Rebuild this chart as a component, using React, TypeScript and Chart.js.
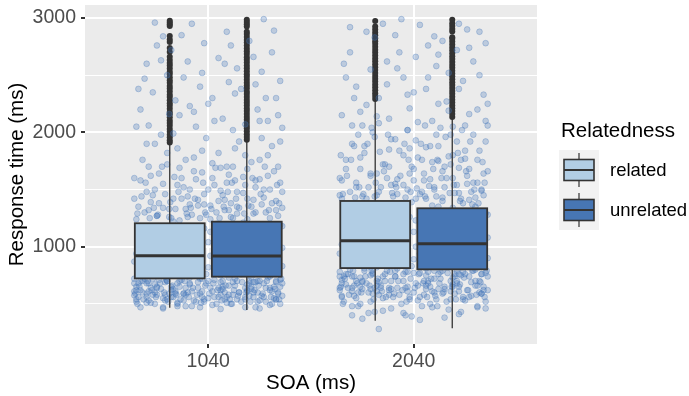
import { useEffect, useRef } from 'react';
import { Chart, registerables } from 'chart.js';

Chart.register(...registerables);

// ---------------- data ----------------
const soaLabels = ['1040', '2040'];
const soaPositions = [1, 2];
const groupNames = ['related', 'unrelated'];
const groupFills = ['#b1cde4', '#4776b4'];

const yTicks = [500, 1000, 1500, 2000, 2500, 3000];
const yMajorTicks = [1000, 2000, 3000];

// box statistics per SOA (1040, 2040)
const relLower = [466, 353];
const relQ1 = [723, 813];
const relMedian = [921, 1053];
const relQ3 = [1205, 1400];
const relUpper = [1907, 2290];

const unrLower = [446, 286];
const unrQ1 = [738, 802];
const unrMedian = [919, 1026];
const unrQ3 = [1219, 1336];
const unrUpper = [1933, 2130];

// outliers
const outRelated1040 = [1912, 1931, 1958, 1980, 2006, 2029, 2057, 2081, 2104, 2133, 2158, 2179, 2206, 2232, 2255, 2281, 2309, 2330, 2357, 2384, 2406, 2433, 2455, 2482, 2511, 2530, 2558, 2584, 2607, 2633, 2661, 2702, 2738, 2790, 2812, 2843, 2930, 2946, 2961, 2976];
const outUnrelated1040 = [1935, 1960, 1984, 2010, 2036, 2058, 2085, 2110, 2134, 2160, 2186, 2208, 2235, 2260, 2284, 2310, 2336, 2358, 2385, 2410, 2434, 2460, 2486, 2508, 2535, 2560, 2584, 2610, 2636, 2658, 2685, 2710, 2734, 2760, 2786, 2808, 2835, 2860, 2880, 2925, 2945, 2965, 2985];
const outRelated2040 = [2292, 2318, 2342, 2368, 2394, 2418, 2444, 2470, 2494, 2520, 2546, 2570, 2596, 2622, 2646, 2672, 2698, 2722, 2748, 2774, 2798, 2824, 2850, 2874, 2900, 2925, 2975];
const outUnrelated2040 = [2135, 2160, 2186, 2210, 2236, 2262, 2286, 2312, 2338, 2362, 2388, 2414, 2438, 2464, 2490, 2514, 2540, 2566, 2590, 2616, 2642, 2666, 2692, 2718, 2742, 2768, 2794, 2818, 2832, 2882, 2905, 2930, 2955, 2984];

// jittered raw observations: [horizontal jitter offset, response time]
const jitter1040: [number, number][] = [
  [-0.30, 2600], [-0.25, 2760], [-0.22, 2840], [-0.18, 2720], [-0.12, 2480], [-0.08, 2950], [-0.04, 2400], [0.02, 2300], [0.05, 2650], [0.09, 2880],
  [0.14, 2560], [0.27, 2990], [0.31, 2700], [0.35, 2450], [-0.33, 2200], [-0.27, 2350], [-0.14, 2150], [-0.06, 2050], [0.00, 2250], [0.07, 2120],
  [0.12, 2020], [0.16, 2380], [0.24, 2200], [0.29, 2100], [0.33, 2300], [-0.20, 2500], [-0.10, 2620], [0.20, 2800], [0.26, 2530], [-0.35, 2050],
  [0.10, 2440], [-0.02, 2780], [0.34, 2150], [-0.16, 2280], [0.22, 2660],
  [-0.34, 2380], [-0.29, 2060], [-0.23, 2630], [-0.19, 2160], [-0.13, 2850], [-0.09, 2230], [-0.03, 2520], [0.03, 2100], [0.08, 2600], [0.13, 2340],
  [0.18, 2070], [0.23, 2420], [0.28, 2300], [0.32, 2890], [0.36, 2040], [-0.26, 2960], [-0.07, 2180], [0.11, 2760], [0.25, 2100], [-0.31, 2470],
  [-0.34, 1350], [-0.30, 1480], [-0.28, 1620], [-0.26, 1900], [-0.24, 1380], [-0.22, 1550], [-0.20, 1720], [-0.17, 1420], [-0.15, 1860], [-0.13, 1600],
  [-0.11, 1330], [-0.09, 1500], [-0.07, 1780], [-0.05, 1410], [-0.03, 1650], [-0.01, 1950], [0.01, 1360], [0.03, 1540], [0.05, 1820], [0.07, 1450],
  [0.09, 1700], [0.11, 1380], [0.13, 1580], [0.15, 1920], [0.17, 1470], [0.19, 1680], [0.21, 1350], [0.23, 1520], [0.25, 1760], [0.27, 1430],
  [0.29, 1620], [0.31, 1880], [0.33, 1400], [0.35, 1560], [0.36, 1340], [-0.36, 1600], [-0.32, 1760], [-0.27, 1450], [-0.23, 1980], [-0.19, 1330],
  [-0.14, 1690], [-0.10, 1440], [-0.06, 1590], [-0.02, 1370], [0.02, 1730], [0.06, 1490], [0.10, 1630], [0.14, 1350], [0.18, 1800], [0.22, 1410],
  [0.26, 1950], [0.30, 1500], [0.34, 1700], [-0.29, 1320], [0.08, 1320],
  [-0.35, 1240], [-0.31, 1300], [-0.28, 1390], [-0.25, 1270], [-0.21, 1460], [-0.18, 1250], [-0.16, 1330], [-0.12, 1520], [-0.08, 1280], [-0.05, 1360],
  [-0.02, 1460], [0.01, 1240], [0.04, 1300], [0.08, 1410], [0.11, 1260], [0.15, 1340], [0.18, 1540], [0.22, 1290], [0.26, 1370], [0.30, 1250],
  [0.33, 1320], [0.36, 1480], [-0.33, 1580], [-0.29, 1700], [-0.24, 1640], [-0.20, 1820], [-0.15, 1540], [-0.11, 1760], [-0.07, 1660], [-0.03, 1840],
  [0.02, 1600], [0.06, 1690], [0.09, 1560], [0.13, 1860], [0.17, 1610], [0.21, 1740], [0.25, 1590], [0.29, 1800], [0.32, 1660], [0.35, 1920],
  [-0.36, 1420], [-0.26, 1500], [-0.17, 1990], [-0.09, 1370], [0.00, 1500], [0.10, 1320], [0.19, 1420], [0.27, 1500], [0.34, 1270], [-0.22, 1340],
  [-0.13, 1420], [-0.04, 1250], [0.05, 1400], [0.14, 1480], [0.23, 1580], [0.31, 1380], [-0.30, 1900], [-0.19, 1260], [0.12, 1700], [0.28, 1300],
  [-0.345, 1290], [-0.305, 1560], [-0.265, 1340], [-0.225, 1700], [-0.185, 1390], [-0.145, 1480], [-0.105, 1290], [-0.065, 1420], [-0.025, 1560], [0.015, 1330],
  [0.055, 1250], [0.095, 1480], [0.135, 1420], [0.175, 1290], [0.215, 1600], [0.255, 1460], [0.295, 1320], [0.335, 1540], [-0.325, 1440], [-0.245, 1280],
  [-0.165, 1610], [-0.085, 1340], [0.035, 1690], [0.115, 1560], [0.195, 1360], [0.275, 1700], [0.345, 1380], [-0.015, 1300], [0.075, 1350], [-0.285, 1250],
  [-0.35, 620], [-0.27, 880], [-0.20, 540], [-0.12, 1150], [-0.04, 720], [0.04, 960], [0.11, 500], [0.19, 1240], [0.27, 680], [0.34, 830],
  [-0.32, 770], [-0.24, 1050], [-0.16, 590], [-0.09, 910], [-0.01, 1280], [0.07, 650], [0.15, 1000], [0.22, 560], [0.30, 740], [0.36, 1180],
  [-0.29, 530], [-0.21, 690], [-0.14, 1120], [-0.06, 810], [0.02, 610], [0.09, 940], [0.17, 1210], [0.25, 700], [0.32, 880], [-0.36, 575],
  [-0.33, 980], [-0.25, 640], [-0.18, 760], [-0.10, 1260], [-0.02, 520], [0.05, 860], [0.13, 1090], [0.21, 630], [0.28, 960], [0.35, 710],
  [-0.30, 590], [-0.23, 1170], [-0.15, 680], [-0.07, 900], [0.00, 550], [0.08, 1030], [0.16, 780], [0.23, 1300], [0.31, 610], [-0.34, 850],
  [-0.36, 720], [-0.28, 510], [-0.19, 990], [-0.11, 640], [-0.03, 1140], [0.06, 580], [0.14, 830], [0.20, 700], [0.29, 1050], [0.33, 540],
  [-0.31, 860], [-0.26, 600], [-0.17, 1220], [-0.08, 750], [0.01, 920], [0.10, 660], [0.18, 560], [0.26, 1010], [0.34, 790], [-0.13, 1160],
  [-0.35, 650], [-0.22, 940], [-0.12, 530], [-0.05, 1080], [0.03, 710], [0.12, 1250], [0.19, 620], [0.27, 890], [0.36, 570], [-0.27, 1000],
  [-0.33, 1100], [-0.24, 780], [-0.16, 610], [-0.07, 850], [0.02, 490], [0.11, 970], [0.21, 730], [0.30, 640], [0.35, 1190], [-0.01, 760],
  [-0.30, 560], [-0.20, 700], [-0.10, 1020], [-0.04, 590], [0.06, 800], [0.15, 1130], [0.24, 520], [0.31, 950], [-0.36, 680], [0.09, 880],
  [-0.34, 820], [-0.25, 1270], [-0.18, 650], [-0.09, 730], [0.00, 1040], [0.08, 600], [0.17, 910], [0.25, 780], [0.33, 540], [-0.14, 1230],
  [-0.32, 700], [-0.21, 580], [-0.11, 870], [-0.02, 1160], [0.07, 630], [0.16, 760], [0.23, 1060], [0.32, 550], [0.36, 990], [-0.28, 640],
  [-0.35, 940], [-0.26, 670], [-0.15, 510], [-0.06, 800], [0.04, 1200], [0.13, 720], [0.22, 600], [0.28, 840], [0.34, 1110], [-0.19, 590],
  [-0.29, 610], [-0.23, 1010], [-0.13, 760], [-0.03, 560], [0.05, 930], [0.14, 1290], [0.20, 680], [0.29, 730], [-0.33, 620], [0.10, 1070],
  [-0.34, 560], [-0.27, 720], [-0.19, 830], [-0.10, 600], [-0.01, 680], [0.08, 540], [0.17, 870], [0.24, 600], [0.31, 760], [0.35, 650],
  [-0.31, 800], [-0.22, 550], [-0.14, 700], [-0.05, 640], [0.04, 800], [0.12, 580], [0.20, 900], [0.28, 520], [0.36, 830], [-0.08, 980],
  [-0.36, 870], [-0.25, 580], [-0.17, 630], [-0.07, 530], [0.03, 870], [0.10, 730], [0.18, 640], [0.26, 570], [0.33, 700], [0.01, 1130],
  [-0.30, 680], [-0.20, 830], [-0.12, 590], [-0.03, 720], [0.06, 690], [0.15, 600], [0.22, 790], [0.30, 860], [-0.35, 520], [0.13, 1000],
  [-0.28, 900], [-0.18, 560], [-0.09, 680], [0.00, 820], [0.09, 560], [0.19, 670], [0.27, 950], [0.34, 600], [-0.24, 750], [0.06, 750],
  [-0.33, 700], [-0.21, 760], [-0.11, 580], [-0.04, 950], [0.05, 640], [0.14, 540], [0.23, 690], [0.32, 780], [-0.16, 880], [0.25, 1120],
  [-0.33, 470], [-0.22, 460], [-0.08, 480], [0.06, 455], [0.18, 470], [0.30, 490], [0.25, 460], [-0.15, 500],
  [-0.35, 540], [-0.32, 600], [-0.29, 680], [-0.26, 500], [-0.23, 630], [-0.20, 700], [-0.17, 560], [-0.14, 650], [-0.11, 480], [-0.08, 610],
  [-0.05, 690], [-0.02, 540], [0.01, 640], [0.04, 500], [0.07, 700], [0.10, 580], [0.13, 660], [0.16, 520], [0.19, 610], [0.22, 690],
  [0.25, 530], [0.28, 640], [0.31, 500], [0.34, 590], [0.36, 680], [-0.34, 680], [-0.30, 510], [-0.27, 580], [-0.24, 710], [-0.21, 530],
  [-0.18, 620], [-0.15, 480], [-0.12, 590], [-0.09, 670], [-0.06, 520], [-0.03, 610], [0.00, 700], [0.03, 560], [0.06, 620], [0.09, 510],
  [0.12, 690], [0.15, 600], [0.18, 540], [0.21, 650], [0.24, 700], [0.27, 560], [0.30, 620], [0.33, 690], [0.35, 500], [-0.36, 610],
  [-0.31, 720], [-0.22, 470], [-0.13, 710], [-0.04, 470], [0.05, 560], [0.14, 700], [0.23, 470], [0.32, 650], [-0.25, 650], [0.20, 570],
  [-0.355, 590], [-0.335, 650], [-0.315, 540], [-0.295, 700], [-0.275, 620], [-0.255, 560], [-0.235, 680], [-0.215, 600], [-0.195, 520], [-0.175, 660],
  [-0.155, 580], [-0.135, 540], [-0.115, 700], [-0.095, 560], [-0.075, 640], [-0.055, 580], [-0.035, 510], [-0.015, 660], [0.005, 590], [0.025, 680],
  [0.045, 620], [0.065, 530], [0.085, 660], [0.105, 540], [0.125, 620], [0.145, 570], [0.165, 690], [0.185, 600], [0.205, 520], [0.225, 620],
  [0.245, 660], [0.265, 590], [0.285, 700], [0.305, 560], [0.325, 630], [0.345, 540], [0.355, 720], [-0.345, 500], [0.115, 500], [-0.205, 710],
];

const jitter2040: [number, number][] = [
  [-0.35, 2150], [-0.31, 2700], [-0.28, 2400], [-0.25, 2060], [-0.21, 2550], [-0.17, 2300], [-0.15, 2950], [-0.12, 2120], [-0.09, 2850], [-0.05, 2480],
  [-0.02, 2210], [0.01, 2660], [0.03, 2940], [0.06, 2380], [0.09, 2100], [0.11, 2580], [0.14, 2800], [0.16, 2270], [0.19, 2050], [0.21, 2720],
  [0.24, 2450], [0.27, 2160], [0.29, 2620], [0.32, 2880], [0.34, 2330], [0.36, 2060], [-0.33, 2480], [-0.23, 2240], [-0.13, 2620], [-0.03, 2020],
  [0.07, 2760], [0.17, 2520], [0.26, 2900], [0.31, 2200], [-0.19, 2830], [0.00, 2350], [0.12, 2250], [0.22, 2950], [-0.07, 2700], [0.35, 2780],
  [-0.34, 2600], [-0.29, 2300], [-0.23, 2880], [-0.18, 2140], [-0.13, 2420], [-0.08, 2560], [-0.03, 2330], [0.02, 2090], [0.07, 2480], [0.12, 2680],
  [0.17, 2190], [0.22, 2380], [0.27, 2740], [0.32, 2500], [0.36, 2250], [-0.26, 2180], [-0.06, 2990], [0.10, 2840], [0.25, 2060], [-0.31, 2920],
  [-0.36, 1450], [-0.33, 1680], [-0.30, 1900], [-0.28, 1520], [-0.26, 1780], [-0.23, 1420], [-0.21, 1620], [-0.19, 1960], [-0.17, 1480], [-0.14, 1720],
  [-0.12, 1850], [-0.10, 1440], [-0.08, 1590], [-0.05, 1800], [-0.03, 1500], [-0.01, 1700], [0.01, 1930], [0.03, 1460], [0.05, 1640], [0.08, 1880],
  [0.10, 1520], [0.12, 1750], [0.14, 1430], [0.16, 1600], [0.18, 1980], [0.20, 1470], [0.22, 1690], [0.25, 1840], [0.27, 1410], [0.29, 1560],
  [0.31, 1760], [0.33, 1490], [0.35, 1920], [-0.35, 1580], [-0.29, 1360], [-0.24, 1880], [-0.18, 1640], [-0.11, 1540], [-0.06, 1380], [0.00, 1580],
  [0.06, 1420], [0.11, 1980], [0.15, 1700], [0.21, 1540], [0.26, 1620], [0.30, 1350], [0.34, 1640], [-0.27, 1980], [-0.15, 1360], [-0.02, 1860],
  [0.09, 1360], [0.19, 1800], [0.24, 1380], [-0.09, 1940], [0.04, 1760],
  [-0.35, 1420], [-0.31, 1480], [-0.28, 1560], [-0.25, 1440], [-0.21, 1640], [-0.18, 1450], [-0.16, 1520], [-0.12, 1700], [-0.08, 1460], [-0.05, 1540],
  [-0.02, 1640], [0.01, 1420], [0.04, 1480], [0.08, 1590], [0.11, 1440], [0.15, 1520], [0.18, 1720], [0.22, 1470], [0.26, 1550], [0.30, 1430],
  [0.33, 1500], [0.36, 1660], [-0.33, 1760], [-0.29, 1880], [-0.24, 1820], [-0.20, 2000], [-0.15, 1720], [-0.11, 1940], [-0.07, 1840], [-0.03, 2020],
  [0.02, 1780], [0.06, 1870], [0.09, 1740], [0.13, 2040], [0.17, 1790], [0.21, 1920], [0.25, 1770], [0.29, 1980], [0.32, 1840], [0.35, 2100],
  [-0.36, 1600], [-0.26, 1680], [-0.17, 2080], [-0.09, 1550], [0.00, 1680], [0.10, 1500], [0.19, 1600], [0.27, 1680], [0.34, 1450], [-0.22, 1520],
  [-0.13, 1600], [-0.04, 1430], [0.05, 1580], [0.14, 1660], [0.23, 1760], [0.31, 1560], [-0.30, 2060], [-0.19, 1440], [0.12, 1880], [0.28, 1480],
  [-0.345, 1460], [-0.305, 1760], [-0.265, 1520], [-0.225, 1900], [-0.185, 1560], [-0.145, 1660], [-0.105, 1470], [-0.065, 1620], [-0.025, 1760], [0.015, 1510],
  [0.055, 1440], [0.095, 1680], [0.135, 1600], [0.175, 1470], [0.215, 1820], [0.255, 1660], [0.295, 1500], [0.335, 1740], [-0.325, 1620], [-0.245, 1460],
  [-0.165, 1830], [-0.085, 1520], [0.035, 1900], [0.115, 1760], [0.195, 1540], [0.275, 1920], [0.345, 1560], [-0.015, 1480], [0.075, 1530], [-0.285, 1430],
  [-0.355, 1800], [-0.205, 2040], [-0.125, 1980], [-0.045, 1900], [0.055, 2060], [0.155, 1960], [0.235, 2020], [0.315, 1380], [0.225, 1400], [0.285, 1370],
  [-0.35, 680], [-0.27, 940], [-0.20, 590], [-0.12, 1250], [-0.04, 780], [0.04, 1050], [0.11, 540], [0.19, 1340], [0.27, 740], [0.34, 900],
  [-0.32, 830], [-0.24, 1150], [-0.16, 640], [-0.09, 990], [-0.01, 1390], [0.07, 700], [0.15, 1090], [0.22, 610], [0.30, 800], [0.36, 1280],
  [-0.29, 570], [-0.21, 750], [-0.14, 1220], [-0.06, 880], [0.02, 660], [0.09, 1020], [0.17, 1310], [0.25, 760], [0.32, 960], [-0.36, 620],
  [-0.33, 1060], [-0.25, 690], [-0.18, 820], [-0.10, 1360], [-0.02, 560], [0.05, 930], [0.13, 1190], [0.21, 680], [0.28, 1040], [0.35, 770],
  [-0.30, 640], [-0.23, 1270], [-0.15, 740], [-0.07, 980], [0.00, 600], [0.08, 1120], [0.16, 850], [0.23, 1420], [0.31, 660], [-0.34, 920],
  [-0.36, 780], [-0.28, 550], [-0.19, 1080], [-0.11, 700], [-0.03, 1240], [0.06, 630], [0.14, 900], [0.20, 760], [0.29, 1140], [0.33, 590],
  [-0.31, 930], [-0.26, 650], [-0.17, 1320], [-0.08, 810], [0.01, 1000], [0.10, 720], [0.18, 610], [0.26, 1100], [0.34, 860], [-0.13, 1260],
  [-0.35, 710], [-0.22, 1020], [-0.12, 580], [-0.05, 1170], [0.03, 770], [0.12, 1350], [0.19, 670], [0.27, 970], [0.36, 620], [-0.27, 1090],
  [-0.33, 1200], [-0.24, 850], [-0.16, 660], [-0.07, 920], [0.02, 530], [0.11, 1060], [0.21, 790], [0.30, 700], [0.35, 1290], [-0.01, 830],
  [-0.30, 610], [-0.20, 760], [-0.10, 1110], [-0.04, 640], [0.06, 870], [0.15, 1230], [0.24, 560], [0.31, 1030], [-0.36, 740], [0.09, 960],
  [-0.34, 890], [-0.25, 1380], [-0.18, 700], [-0.09, 790], [0.00, 1130], [0.08, 650], [0.17, 990], [0.25, 850], [0.33, 590], [-0.14, 1330],
  [-0.32, 760], [-0.21, 630], [-0.11, 950], [-0.02, 1260], [0.07, 680], [0.16, 830], [0.23, 1150], [0.32, 600], [0.36, 1080], [-0.28, 700],
  [-0.35, 1020], [-0.26, 730], [-0.15, 550], [-0.06, 870], [0.04, 1300], [0.13, 780], [0.22, 650], [0.28, 910], [0.34, 1210], [-0.19, 640],
  [-0.29, 660], [-0.23, 1100], [-0.13, 830], [-0.03, 610], [0.05, 1010], [0.14, 1400], [0.20, 740], [0.29, 790], [-0.33, 670], [0.10, 1160],
  [-0.34, 520], [-0.27, 480], [-0.19, 430], [-0.10, 560], [-0.01, 390], [0.08, 500], [0.17, 450], [0.24, 540], [0.31, 470], [0.35, 520],
  [-0.31, 860], [-0.22, 600], [-0.14, 760], [-0.05, 700], [0.04, 860], [0.12, 630], [0.20, 980], [0.28, 570], [0.36, 900], [-0.08, 1060],
  [-0.36, 940], [-0.25, 630], [-0.17, 690], [-0.07, 580], [0.03, 940], [0.10, 790], [0.18, 700], [0.26, 620], [0.33, 760], [0.01, 1230],
  [-0.30, 740], [-0.20, 900], [-0.12, 640], [-0.03, 780], [0.06, 750], [0.15, 650], [0.22, 860], [0.30, 930], [-0.35, 570], [0.13, 1080],
  [-0.28, 980], [-0.18, 610], [-0.09, 740], [0.00, 890], [0.09, 610], [0.19, 730], [0.27, 1030], [0.34, 650], [-0.24, 810], [0.06, 810],
  [-0.33, 760], [-0.21, 820], [-0.11, 630], [-0.04, 1030], [0.05, 700], [0.14, 590], [0.23, 750], [0.32, 850], [-0.16, 950], [0.25, 1220],
  [-0.17, 280], [-0.25, 370], [0.03, 360], [-0.30, 400], [0.15, 380], [0.22, 410], [-0.05, 420],
  [-0.35, 560], [-0.32, 640], [-0.29, 740], [-0.26, 500], [-0.23, 680], [-0.20, 770], [-0.17, 580], [-0.14, 700], [-0.11, 460], [-0.08, 640],
  [-0.05, 760], [-0.02, 540], [0.01, 680], [0.04, 480], [0.07, 780], [0.10, 600], [0.13, 720], [0.16, 520], [0.19, 650], [0.22, 760],
  [0.25, 530], [0.28, 690], [0.31, 480], [0.34, 620], [0.36, 740], [-0.34, 740], [-0.30, 480], [-0.27, 600], [-0.24, 790], [-0.21, 520],
  [-0.18, 660], [-0.15, 440], [-0.12, 620], [-0.09, 740], [-0.06, 500], [-0.03, 650], [0.00, 770], [0.03, 560], [0.06, 660], [0.09, 470],
  [0.12, 760], [0.15, 630], [0.18, 540], [0.21, 700], [0.24, 780], [0.27, 560], [0.30, 660], [0.33, 760], [0.35, 460], [-0.36, 640],
  [-0.31, 800], [-0.22, 420], [-0.13, 790], [-0.04, 400], [0.05, 580], [0.14, 790], [0.23, 430], [0.32, 700], [-0.25, 700], [0.20, 590],
  [-0.355, 650], [-0.335, 720], [-0.315, 580], [-0.295, 790], [-0.275, 680], [-0.255, 600], [-0.235, 740], [-0.215, 660], [-0.195, 540], [-0.175, 720],
  [-0.155, 610], [-0.135, 560], [-0.115, 780], [-0.095, 590], [-0.075, 700], [-0.055, 620], [-0.035, 520], [-0.015, 720], [0.005, 640], [0.025, 760],
  [0.045, 680], [0.065, 560], [0.085, 720], [0.105, 570], [0.125, 680], [0.145, 600], [0.165, 770], [0.185, 650], [0.205, 540], [0.225, 670],
  [0.245, 730], [0.265, 620], [0.285, 790], [0.305, 580], [0.325, 690], [0.345, 560], [0.355, 790], [-0.345, 500], [0.115, 480], [-0.205, 790],
];

// ---------------- layout / style constants ----------------
const DODGE = 0.1875;
const BOX_W = 0.34;
const FONT = "'Liberation Sans', Arial, sans-serif";

const boxStats = [
  { lo: relLower, q1: relQ1, med: relMedian, q3: relQ3, hi: relUpper },
  { lo: unrLower, q1: unrQ1, med: unrMedian, q3: unrQ3, hi: unrUpper },
];
const groupOffsets = [-DODGE, DODGE];

const outlierData = [
  ...outRelated1040.map((v) => ({ x: soaPositions[0] - DODGE, y: v })),
  ...outUnrelated1040.map((v) => ({ x: soaPositions[0] + DODGE, y: v })),
  ...outRelated2040.map((v) => ({ x: soaPositions[1] - DODGE, y: v })),
  ...outUnrelated2040.map((v) => ({ x: soaPositions[1] + DODGE, y: v })),
];
const jitterData = [
  ...jitter1040.map(([dx, v]) => ({ x: soaPositions[0] + dx, y: v })),
  ...jitter2040.map(([dx, v]) => ({ x: soaPositions[1] + dx, y: v })),
];

const panelBg = {
  id: 'panelBg',
  beforeDraw(chart: any) {
    const { ctx, chartArea: a } = chart;
    ctx.save();
    ctx.fillStyle = '#ebebeb';
    ctx.fillRect(a.left, a.top, a.right - a.left, a.bottom - a.top);
    ctx.restore();
  },
};

const boxPlugin = {
  id: 'boxes',
  afterDatasetsDraw(chart: any) {
    const { ctx, scales } = chart;
    const x = scales.x;
    const y = scales.y;
    ctx.save();
    boxStats.forEach((s, gi) => {
      soaPositions.forEach((pos, i) => {
        const c = pos + groupOffsets[gi];
        const cx = x.getPixelForValue(c);
        const l = x.getPixelForValue(c - BOX_W / 2);
        const r = x.getPixelForValue(c + BOX_W / 2);
        const yLo = y.getPixelForValue(s.lo[i]);
        const yQ1 = y.getPixelForValue(s.q1[i]);
        const yMed = y.getPixelForValue(s.med[i]);
        const yQ3 = y.getPixelForValue(s.q3[i]);
        const yHi = y.getPixelForValue(s.hi[i]);
        ctx.strokeStyle = '#333333';
        ctx.lineWidth = 1.3;
        ctx.beginPath();
        ctx.moveTo(cx, yHi);
        ctx.lineTo(cx, yQ3);
        ctx.moveTo(cx, yQ1);
        ctx.lineTo(cx, yLo);
        ctx.stroke();
        ctx.fillStyle = groupFills[gi];
        ctx.fillRect(l, yQ3, r - l, yQ1 - yQ3);
        ctx.lineWidth = 1.8;
        ctx.strokeRect(l, yQ3, r - l, yQ1 - yQ3);
        ctx.lineWidth = 3;
        ctx.beginPath();
        ctx.moveTo(l, yMed);
        ctx.lineTo(r, yMed);
        ctx.stroke();
      });
    });
    ctx.restore();
  },
};

const annotations = {
  id: 'annotations',
  afterDraw(chart: any) {
    const { ctx, chartArea: a } = chart;
    ctx.save();
    ctx.fillStyle = '#000000';
    ctx.font = `20.5px ${FONT}`;
    ctx.textAlign = 'center';
    ctx.textBaseline = 'middle';
    ctx.fillText('SOA (ms)', (a.left + a.right) / 2, 383);
    ctx.save();
    ctx.translate(17, (a.top + a.bottom) / 2);
    ctx.rotate(-Math.PI / 2);
    ctx.fillText('Response time (ms)', 0, 0);
    ctx.restore();

    // legend
    const lx = a.right + 22;
    ctx.textAlign = 'left';
    ctx.font = `20.5px ${FONT}`;
    ctx.fillText('Relatedness', lx + 2, 131);
    const top0 = 150;
    const keyH = 40;
    ctx.fillStyle = '#f2f2f2';
    ctx.fillRect(lx, top0, 40, keyH * groupNames.length);
    groupNames.forEach((name, gi) => {
      const t = top0 + gi * keyH;
      const cx = lx + 20;
      ctx.strokeStyle = '#333333';
      ctx.lineWidth = 1.2;
      ctx.beginPath();
      ctx.moveTo(cx, t + 3);
      ctx.lineTo(cx, t + 37);
      ctx.stroke();
      ctx.fillStyle = groupFills[gi];
      ctx.fillRect(lx + 5, t + 9.5, 30, 21);
      ctx.lineWidth = 1.6;
      ctx.strokeRect(lx + 5, t + 9.5, 30, 21);
      ctx.lineWidth = 2;
      ctx.beginPath();
      ctx.moveTo(lx + 5, t + 20);
      ctx.lineTo(lx + 35, t + 20);
      ctx.stroke();
      ctx.fillStyle = '#000000';
      ctx.font = `18.5px ${FONT}`;
      ctx.fillText(name, lx + 51, t + 21);
    });
    ctx.restore();
  },
};

export default function App() {
  const ref = useRef<HTMLCanvasElement | null>(null);
  useEffect(() => {
    document.body.style.margin = '0';
    const canvas = ref.current;
    if (!canvas) return;
    const chart = new Chart(canvas, {
      type: 'scatter',
      data: {
        datasets: [
          {
            label: 'observations',
            data: jitterData,
            pointRadius: 2.9,
            pointBackgroundColor: 'rgba(70,120,185,0.28)',
            pointBorderColor: 'rgba(70,120,185,0.4)',
            pointBorderWidth: 0.8,
          },
          {
            label: 'outliers',
            data: outlierData,
            pointRadius: 3,
            pointBackgroundColor: '#333333',
            pointBorderColor: '#333333',
            pointBorderWidth: 0,
          },
        ],
      },
      options: {
        animation: false,
        responsive: false,
        events: [],
        layout: { padding: { top: 5, right: 152, left: 0, bottom: 0 } },
        plugins: { legend: { display: false }, tooltip: { enabled: false } },
        scales: {
          x: {
            type: 'linear',
            min: 0.4,
            max: 2.6,
            afterBuildTicks: (s: any) => {
              s.ticks = soaPositions.map((v) => ({ value: v }));
            },
            afterFit: (s: any) => {
              s.height = 52;
              s.paddingLeft = 0;
              s.paddingRight = 0;
            },
            ticks: {
              callback: (v: any) => soaLabels[soaPositions.indexOf(Number(v))] ?? '',
              color: '#4d4d4d',
              font: { family: FONT, size: 19.5 },
              padding: 2,
              maxRotation: 0,
            },
            grid: { color: '#ffffff', lineWidth: 2, tickColor: '#333333', tickLength: 4 },
            border: { display: false },
          },
          y: {
            type: 'linear',
            min: 149,
            max: 3114,
            afterBuildTicks: (s: any) => {
              s.ticks = yTicks.map((v) => ({ value: v }));
            },
            afterFit: (s: any) => {
              s.width = 85;
              s.paddingTop = 0;
              s.paddingBottom = 0;
            },
            ticks: {
              callback: (v: any) => (yMajorTicks.includes(Number(v)) ? String(v) : ''),
              color: '#4d4d4d',
              font: { family: FONT, size: 19.5 },
              padding: 5,
            },
            grid: {
              color: '#ffffff',
              lineWidth: (c: any) => (yMajorTicks.includes(c.tick?.value) ? 2 : 1),
              tickColor: (c: any) => (yMajorTicks.includes(c.tick?.value) ? '#333333' : 'rgba(0,0,0,0)'),
              tickLength: 4,
            },
            border: { display: false },
          },
        },
      },
      plugins: [panelBg, boxPlugin, annotations],
    });
    return () => chart.destroy();
  }, []);
  return <canvas ref={ref} width={689} height={396} style={{ display: 'block' }} />;
}
